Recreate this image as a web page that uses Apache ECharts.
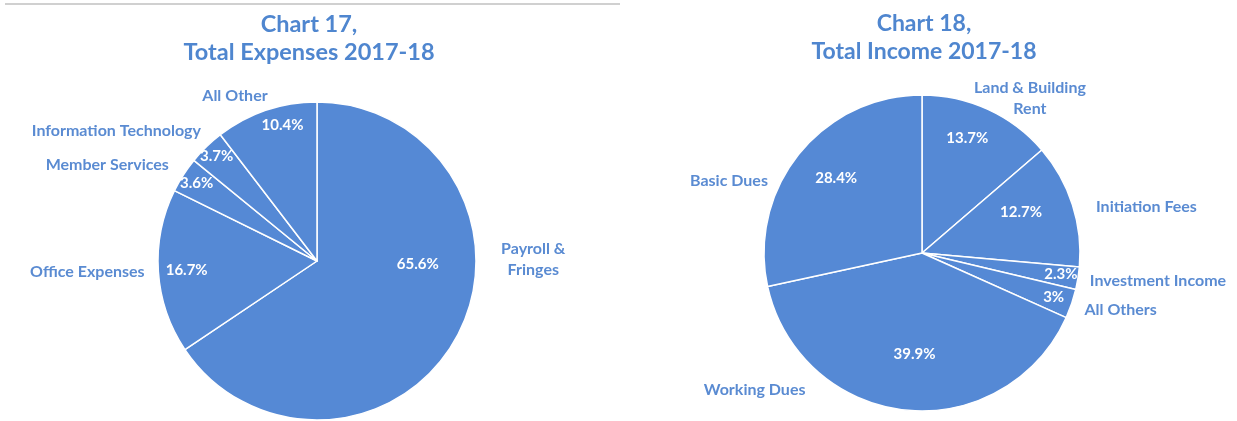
<!DOCTYPE html>
<html>
<head>
<meta charset="utf-8">
<script src="https://cdn.jsdelivr.net/npm/echarts@6/dist/echarts.min.js"></script>
<style>
html,body{margin:0;padding:0;background:#fff;}
#chart{width:1237px;height:421px;}
</style>
</head>
<body>
<div id="chart"></div>
<script>
// ---- data ----
const expenseTitle = 'Chart 17,\nTotal Expenses 2017-18';
const expenseCategories = ['Payroll &\nFringes', 'Office Expenses', 'Member Services', 'Information Technology', 'All Other'];
const expenseValues = [65.6, 16.7, 3.6, 3.7, 10.4];

const incomeTitle = 'Chart 18,\nTotal Income 2017-18';
const incomeCategories = ['Land & Building\nRent', 'Initiation Fees', 'Investment Income', 'All Others', 'Working Dues', 'Basic Dues'];
const incomeValues = [13.7, 12.7, 2.3, 3, 39.9, 28.4];

// ---- label nudges (layout only) ----
const expenseInnerNudge = [[28, -36], [-48, 4], [-51, -33], [-43, -46], [-8, -58]];
const expenseOuterNudge = [[76, -76], [-71, 0], [-76, -10], [-90, -16], [-31, -15]];
const incomeInnerNudge = [[11, -40], [21, -16], [58, 8], [54, 18], [1, 20], [-22, -23]];
const incomeOuterNudge = [[42, -11], [74, 2], [80, 3], [49, 6], [-151, -20], [-70, 27]];

const FONT = 'Lato, "Open Sans", sans-serif';
const SLICE = '#5589d5';
const TEXT = '#5a8bd2';
const TITLE = '#4f86cf';

function toData(cats, vals) {
  return cats.map((c, i) => ({ name: c, value: vals[i] }));
}

function pieSeries(cats, vals, center, radius, innerNudge, outerNudge) {
  const data = toData(cats, vals);
  return [
    {
      type: 'pie',
      center: center,
      radius: radius,
      startAngle: 90,
      clockwise: true,
      avoidLabelOverlap: false,
      animation: false,
      data: data,
      itemStyle: { color: SLICE, borderColor: '#ffffff', borderWidth: 1.5 },
      label: {
        show: true,
        position: 'inside',
        color: '#ffffff',
        fontFamily: FONT,
        fontWeight: 'bold',
        fontSize: 15,
        formatter: p => p.value + '%'
      },
      labelLine: { show: false },
      labelLayout: p => ({ dx: innerNudge[p.dataIndex][0], dy: innerNudge[p.dataIndex][1] }),
      emphasis: { disabled: true }
    },
    {
      type: 'pie',
      center: center,
      radius: radius,
      startAngle: 90,
      clockwise: true,
      avoidLabelOverlap: false,
      animation: false,
      silent: true,
      data: data,
      itemStyle: { color: 'rgba(0,0,0,0)', borderWidth: 0 },
      label: {
        show: true,
        position: 'outside',
        color: TEXT,
        fontFamily: FONT,
        fontWeight: 'bold',
        fontSize: 16,
        lineHeight: 21,
        distanceToLabelLine: 0,
        formatter: p => p.name
      },
      labelLine: { show: false, length: 0, length2: 0 },
      labelLayout: p => ({
        dx: outerNudge[p.dataIndex][0],
        dy: outerNudge[p.dataIndex][1],
        align: 'center',
        verticalAlign: 'middle'
      }),
      emphasis: { disabled: true }
    }
  ];
}

const chart = echarts.init(document.getElementById('chart'), null, { renderer: 'canvas' });
chart.setOption({
  backgroundColor: '#ffffff',
  title: [
    {
      text: expenseTitle,
      left: 304, top: 5, textAlign: 'center',
      textStyle: { color: TITLE, fontFamily: FONT, fontWeight: 'bold', fontSize: 23.5, lineHeight: 28 }
    },
    {
      text: incomeTitle,
      left: 919, top: 5, textAlign: 'center',
      textStyle: { color: TITLE, fontFamily: FONT, fontWeight: 'bold', fontSize: 23, lineHeight: 28 }
    }
  ],
  graphic: [
    { type: 'line', shape: { x1: 5, y1: 4, x2: 620, y2: 4 }, style: { stroke: '#d0d0d0', lineWidth: 2 }, silent: true }
  ],
  series: [
    ...pieSeries(expenseCategories, expenseValues, [317, 261], 159, expenseInnerNudge, expenseOuterNudge),
    ...pieSeries(incomeCategories, incomeValues, [922, 253], 158, incomeInnerNudge, incomeOuterNudge)
  ]
});
</script>
</body>
</html>
